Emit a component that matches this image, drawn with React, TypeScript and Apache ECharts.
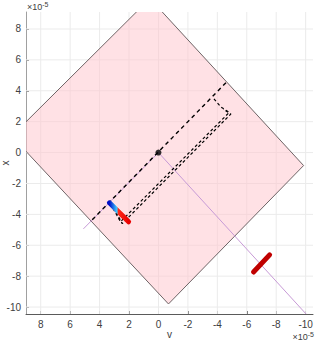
import React, { useEffect, useRef } from "react";
import * as echarts from "echarts";

// Data (units of 1e-5)
const vTicks = [-10, -8, -6, -4, -2, 0, 2, 4, 6, 8];
const xTicks = [-10, -8, -6, -4, -2, 0, 2, 4, 6, 8];

// Pink region (rotated square) vertices
const regionV = [0.58, -9.86, -0.68, 9.97];
const regionX = [9.97, -0.84, -9.8, 1.07];

// Purple sight line
const sightV = [5.1, 0, -10.03];
const sightX = [-4.94, 0, -10.45];

// Long black dashed line through origin
const mainV = [4.5, -4.61];
const mainX = [-4.35, 4.55];

// Dense dashed loop (two nearly-coincident passes)
const loopAV = [3.26, 2.58, -4.81, -4.25, -3.7];
const loopAX = [-3.31, -4.48, 2.6, 2.95, 3.55];
const loopBV = [3.12, 2.46, -4.92, -4.4];
const loopBX = [-3.4, -4.6, 2.5, 2.8];

// Coloured bar (blue→cyan→red)
const barV = [3.33, 2.03];
const barX = [-3.25, -4.48];

// Dark red bar
const darkBarV = [-6.46, -7.55];
const darkBarX = [-7.73, -6.62];

// Origin point
const originV = [0];
const originX = [0];

const zip = (a: number[], b: number[]) => a.map((v, i) => [v, b[i]]);

export default function App() {
  const ref = useRef<HTMLDivElement>(null);
  useEffect(() => {
    if (!ref.current) return;
    const chart = echarts.init(ref.current, undefined, { renderer: "svg" });
    const labelColor = "#404040";
    const font = "Liberation Sans, Arial, sans-serif";
    const option: any = {
      animation: false,
      textStyle: { fontFamily: font },
      grid: { left: 26, right: 3, top: 12, bottom: 28, containLabel: false, outerBoundsMode: "none" },
      xAxis: {
        type: "value",
        inverse: true,
        min: -10.5,
        max: 9,
        name: "v",
        nameLocation: "middle",
        nameGap: 15,
        nameMoveOverlap: false,
        nameTextStyle: { color: labelColor, fontSize: 10, fontFamily: font },
        axisLine: { show: true, onZero: false, lineStyle: { color: "#5a5a5a", width: 1 } },
        axisTick: { show: true, inside: true, length: 3, customValues: vTicks, lineStyle: { color: "#5a5a5a" } },
        axisLabel: { customValues: vTicks, color: labelColor, fontSize: 10, margin: 5, fontFamily: font },
        splitLine: { show: false },
      },
      yAxis: {
        type: "value",
        min: -10.45,
        max: 9.1,
        name: "x",
        nameLocation: "middle",
        nameGap: 16,
        nameMoveOverlap: false,
        nameRotate: 90,
        nameTextStyle: { color: labelColor, fontSize: 10, fontFamily: font },
        axisLine: { show: true, onZero: false, lineStyle: { color: "#a0a0a0", width: 1 } },
        axisTick: { show: true, inside: true, length: 3, customValues: xTicks, lineStyle: { color: "#808080" } },
        axisLabel: { customValues: xTicks, color: labelColor, fontSize: 10, margin: 5, fontFamily: font },
        splitLine: { show: false },
      },
      graphic: [
        {
          type: "text",
          left: 27,
          top: 1,
          style: {
            text: "×10{e|-5}",
            fill: labelColor,
            font: `9px ${font}`,
            rich: { e: { fontSize: 7, fill: labelColor, padding: [0, 0, 5, 0] } },
          },
        },
        {
          type: "text",
          right: 2,
          bottom: 1,
          style: {
            text: "×10{e|-5}",
            fill: labelColor,
            font: `9px ${font}`,
            rich: { e: { fontSize: 7, fill: labelColor, padding: [0, 0, 5, 0] } },
          },
        },
      ],
      series: [
        ...vTicks.map((t) => ({
          type: "line",
          data: [[t, -10.45], [t, 9.1]],
          showSymbol: false,
          silent: true,
          lineStyle: { color: "#ebebeb", width: 1 },
          z: 0,
        })),
        ...xTicks.map((t) => ({
          type: "line",
          data: [[-10.5, t], [9, t]],
          showSymbol: false,
          silent: true,
          lineStyle: { color: "#ebebeb", width: 1 },
          z: 0,
        })),
        {
          type: "custom",
          clip: true,
          silent: true,
          z: 1,
          data: [0],
          renderItem: (params: any, api: any) => {
            const pts = regionV.map((v, i) => api.coord([v, regionX[i]]));
            return {
              type: "polygon",
              shape: { points: pts },
              style: { fill: "rgba(255, 196, 203, 0.5)", stroke: "#6e6466", lineWidth: 1 },
            };
          },
        },
        {
          type: "line",
          data: zip(sightV, sightX),
          showSymbol: false,
          clip: true,
          lineStyle: { color: "#c79ad6", width: 1 },
          z: 2,
        },
        {
          type: "line",
          data: zip(mainV, mainX),
          showSymbol: false,
          lineStyle: { color: "#000", width: 1.4, type: [4, 3.5] },
          z: 3,
        },
        {
          type: "line",
          data: zip(loopAV, loopAX),
          showSymbol: false,
          lineStyle: { color: "#000", width: 1.2, type: [3, 2.5] },
          z: 3,
        },
        {
          type: "line",
          data: zip(loopBV, loopBX),
          showSymbol: false,
          lineStyle: { color: "#000", width: 1.2, type: [3, 2.5], dashOffset: 2.5 },
          z: 3,
        },
        {
          type: "line",
          data: zip(barV, barX),
          showSymbol: false,
          lineStyle: {
            width: 5,
            cap: "round",
            color: new echarts.graphic.LinearGradient(0, 0, 1, 0, [
              { offset: 0, color: "#0010c8" },
              { offset: 0.4, color: "#40d0ff" },
              { offset: 0.45, color: "#ff2a1a" },
              { offset: 1, color: "#e80000" },
            ]),
          },
          z: 4,
        },
        {
          type: "line",
          data: zip(darkBarV, darkBarX),
          showSymbol: false,
          lineStyle: { width: 5, cap: "round", color: "#c00000" },
          z: 4,
        },
        {
          type: "scatter",
          data: zip(originV, originX),
          symbolSize: 6,
          itemStyle: { color: "#000" },
          z: 5,
        },
      ],
    };
    chart.setOption(option);
    return () => chart.dispose();
  }, []);
  return <div ref={ref} style={{ width: 316, height: 342, position: "absolute", left: 0, top: 0 }} />;
}
